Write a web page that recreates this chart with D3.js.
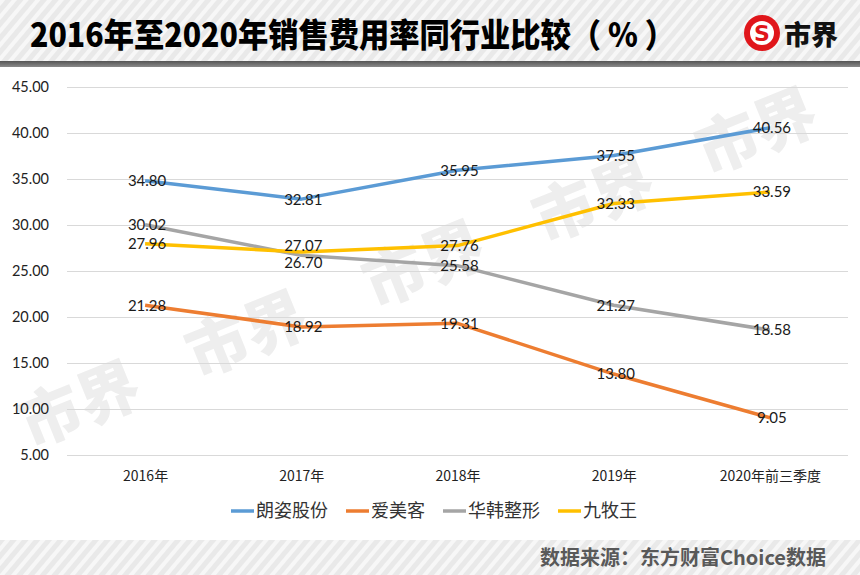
<!DOCTYPE html>
<html><head><meta charset="utf-8">
<script src="https://cdn.jsdelivr.net/npm/d3@7"></script>
<style>
html,body{margin:0;padding:0;background:#fff;}
svg{display:block;}
</style></head>
<body>
<script>
const categories = ["2016年","2017年","2018年","2019年","2020年前三季度"];
const seriesNames = ["朗姿股份","爱美客","华韩整形","九牧王"];
const langzi = [34.80, 32.81, 35.95, 37.55, 40.56];
const aimeike = [21.28, 18.92, 19.31, 13.80, 9.05];
const huahan = [30.02, 26.70, 25.58, 21.27, 18.58];
const jiumuwang = [27.96, 27.07, 27.76, 32.33, 33.59];
const yTicks = [5, 10, 15, 20, 25, 30, 35, 40, 45];
const colors = ["#5B9BD5", "#ED7D31", "#A5A5A5", "#FFC000"];
const title = "2016年至2020年销售费用率同行业比较（ % ）";
const source = "数据来源：东方财富Choice数据";

const series = [langzi, aimeike, huahan, jiumuwang].map((v, i) => ({name: seriesNames[i], values: v, color: colors[i]}));

const W = 860, H = 575;
const svg = d3.select("body").append("svg").attr("width", W).attr("height", H);
const defs = svg.append("defs");
const pat = defs.append("pattern").attr("id", "stripes").attr("patternUnits", "userSpaceOnUse")
  .attr("width", 9).attr("height", 9).attr("patternTransform", "rotate(40)");
pat.append("rect").attr("width", 9).attr("height", 9).attr("fill", "#e9e9e9");
pat.append("rect").attr("width", 4).attr("height", 9).attr("fill", "#f7f7f7");
const g1 = defs.append("linearGradient").attr("id", "darkbar").attr("x1", 0).attr("x2", 0).attr("y1", 0).attr("y2", 1);
g1.append("stop").attr("offset", "0").attr("stop-color", "#555");
g1.append("stop").attr("offset", "1").attr("stop-color", "#8a8a8a");

// header band
svg.append("rect").attr("x", 0).attr("y", 0).attr("width", W).attr("height", 62).attr("fill", "url(#stripes)");
svg.append("rect").attr("x", 0).attr("y", 61).attr("width", W).attr("height", 6).attr("fill", "url(#darkbar)");
svg.append("text").attr("x", 30).attr("y", 47).text(title)
  .attr("font-family", "'Noto Sans CJK SC', sans-serif").attr("font-weight", 900)
  .attr("font-size", 33).attr("fill", "#000").attr("textLength", 645).attr("lengthAdjust", "spacingAndGlyphs");

// logo
const logo = svg.append("g").attr("transform", "translate(762,33)");
logo.append("circle").attr("r", 18).attr("fill", "#e0161b");
logo.append("circle").attr("r", 12).attr("fill", "#fff");
logo.append("text").text("S").attr("text-anchor", "middle").attr("y", 8)
  .attr("font-family", "'DejaVu Sans', sans-serif").attr("font-weight", "bold").attr("font-size", 22).attr("fill", "#e0161b");
svg.append("text").attr("x", 784).attr("y", 45).text("市界")
  .attr("font-family", "'Noto Sans CJK SC', sans-serif").attr("font-weight", 900).attr("font-size", 27).attr("fill", "#111");

// footer band
svg.append("rect").attr("x", 0).attr("y", 540).attr("width", W).attr("height", 35).attr("fill", "url(#stripes)");
svg.append("text").attr("x", 826).attr("y", 565).attr("text-anchor", "end").text(source)
  .attr("font-family", "'Noto Sans CJK SC', sans-serif").attr("font-weight", 700)
  .attr("font-size", 20).attr("fill", "#595959");

// watermarks
const wm = svg.append("g");
[[88, 425], [255, 355], [432, 285], [602, 220], [765, 152]].forEach(([px, py]) => {
  wm.append("text").attr("transform", `translate(${px},${py}) rotate(-22)`).text("市界")
    .attr("text-anchor", "middle").attr("font-family", "'Noto Sans CJK SC', sans-serif")
    .attr("font-weight", 900).attr("font-size", 62).attr("fill", "#eeeeee");
});

// scales
const pLeft = 67, pRight = 848, pTop = 87, pBottom = 455;
const x = d3.scalePoint().domain(categories).range([pLeft, pRight]).padding(0.5);
const y = d3.scaleLinear().domain([5, 45]).range([pBottom, pTop]);

// gridlines
svg.append("g").selectAll("line").data(yTicks).join("line")
  .attr("x1", pLeft).attr("x2", pRight).attr("y1", d => y(d) + 0.5).attr("y2", d => y(d) + 0.5)
  .attr("stroke", "#d9d9d9").attr("stroke-width", 1);

// y axis
const yAxis = svg.append("g").attr("transform", `translate(${pLeft},0)`)
  .call(d3.axisLeft(y).tickValues(yTicks).tickFormat(d3.format(".2f")).tickSize(0).tickPadding(18));
yAxis.select(".domain").remove();
yAxis.selectAll("text").attr("font-family", "Lato, sans-serif").attr("font-size", 14.5).attr("fill", "#222");

// x axis
const xAxis = svg.append("g").attr("transform", `translate(0,${pBottom})`)
  .call(d3.axisBottom(x).tickSize(0).tickPadding(16));
xAxis.select(".domain").remove();
xAxis.selectAll("text").attr("font-family", "'Noto Sans CJK SC', sans-serif").attr("font-size", 14).attr("fill", "#222");

// lines
const line = d3.line().x((d, i) => x(categories[i])).y(d => y(d));
svg.append("g").selectAll("path").data(series).join("path")
  .attr("d", d => line(d.values)).attr("fill", "none")
  .attr("stroke", d => d.color).attr("stroke-width", 3.5).attr("stroke-linejoin", "round");

// labels with simple collision avoidance per category
const labels = [];
series.forEach(s => s.values.forEach((v, i) => labels.push({v, i, x: x(categories[i]), y: y(v)})));
categories.forEach((c, i) => {
  const ls = labels.filter(l => l.i === i).sort((a, b) => a.y - b.y);
  for (let k = 1; k < ls.length; k++) {
    const gap = ls[k].y - ls[k - 1].y;
    if (gap < 17) { const d = (17 - gap) / 2; ls[k - 1].y -= d; ls[k].y += d; }
  }
});
svg.append("g").selectAll("text").data(labels).join("text")
  .attr("x", d => d.x + 2).attr("y", d => d.y).attr("dy", "0.36em").attr("text-anchor", "middle")
  .text(d => d3.format(".2f")(d.v))
  .attr("font-family", "Lato, sans-serif").attr("font-size", 15).attr("fill", "#1a1a1a");

// legend
const leg = svg.append("g");
let lx = 0;
series.forEach(s => {
  const g = leg.append("g").attr("transform", `translate(${lx},0)`);
  g.append("line").attr("x1", 0).attr("x2", 23).attr("y1", 0).attr("y2", 0).attr("stroke", s.color).attr("stroke-width", 3.5);
  const t = g.append("text").attr("x", 25).attr("y", 0).attr("dy", "0.36em").text(s.name)
    .attr("font-family", "'Noto Sans CJK SC', sans-serif").attr("font-size", 18).attr("fill", "#333");
  lx += 25 + t.node().getComputedTextLength() + 18;
});
const totalW = lx - 18;
leg.attr("transform", `translate(${434 - totalW / 2},511)`);
</script>
</body></html>
